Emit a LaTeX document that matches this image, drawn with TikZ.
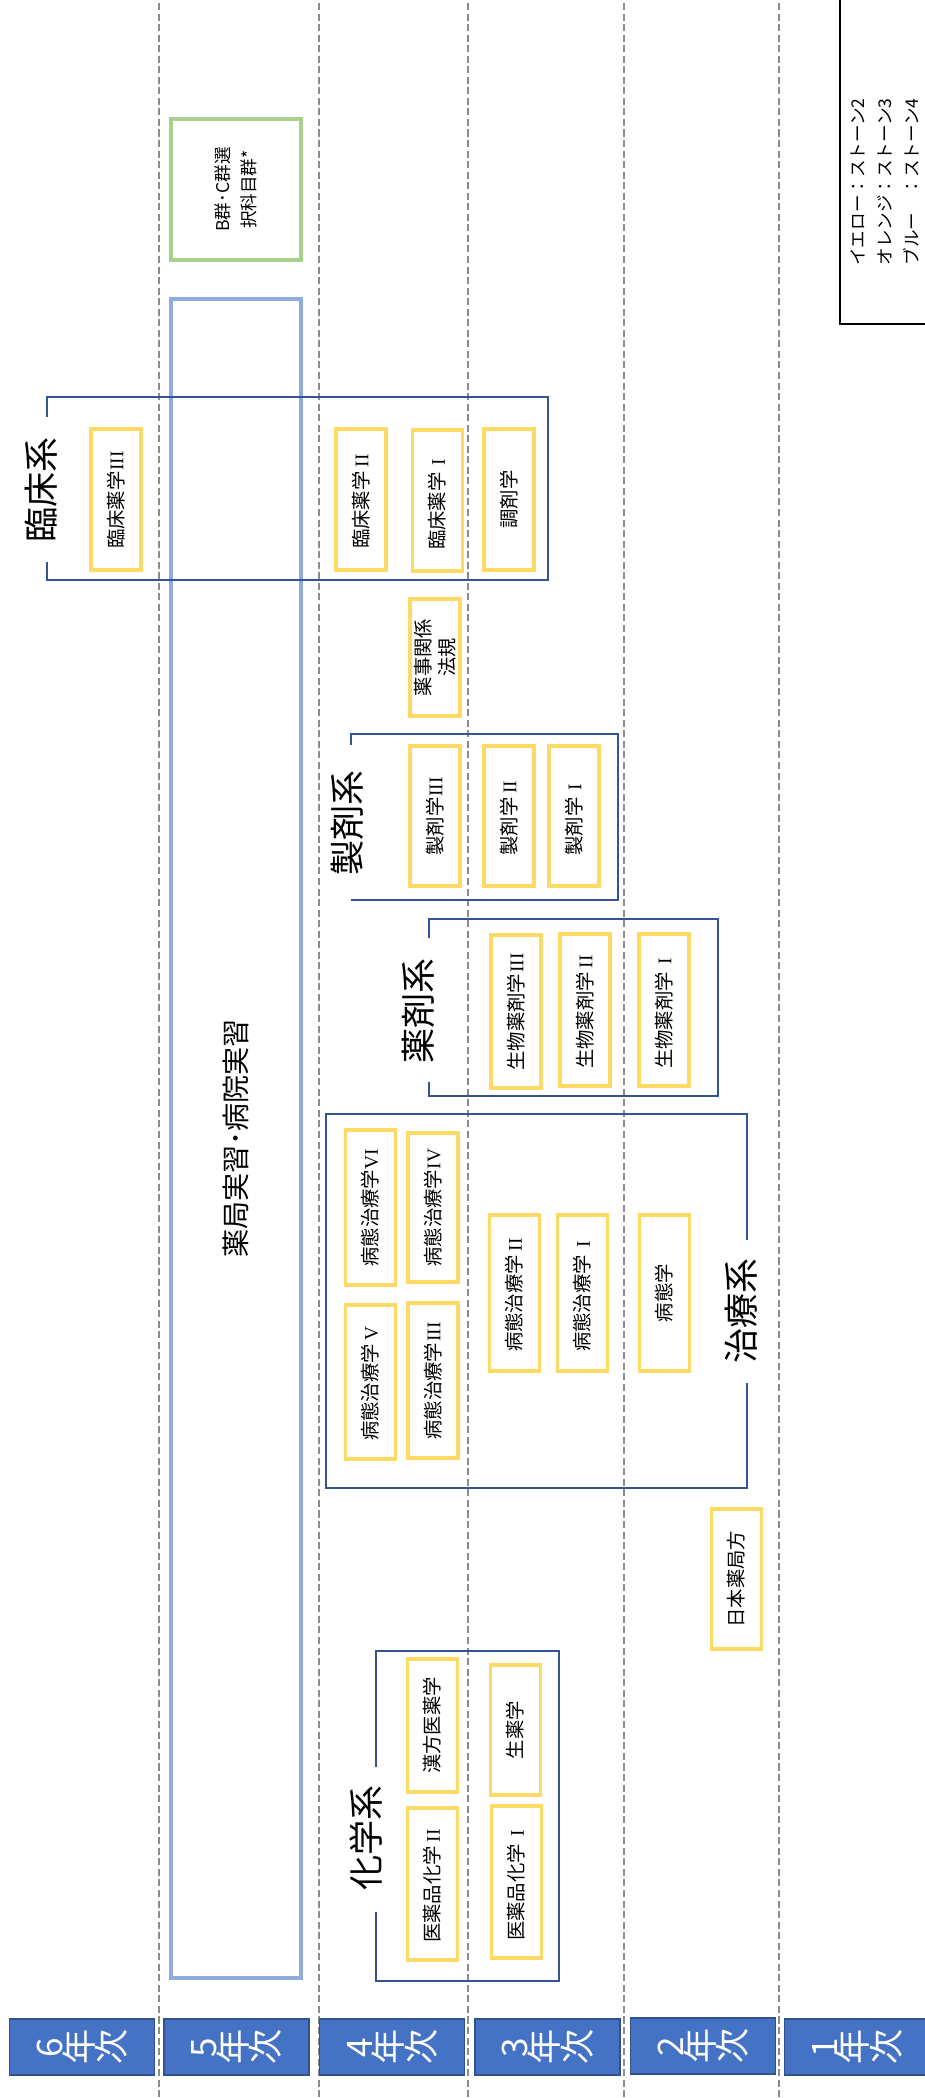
\documentclass[tikz,border=0pt]{standalone}
\usepackage{graphicx}
\usepackage{fontspec}
\setmainfont{Noto Sans CJK JP}
\newfontfamily\numfont{Liberation Serif}
\definecolor{stoneyellow}{RGB}{255,217,102}
\definecolor{groupblue}{RGB}{52,84,150}
\definecolor{practiceblue}{RGB}{143,170,220}
\definecolor{electivegreen}{RGB}{169,209,142}
\definecolor{yearfill}{RGB}{68,114,196}
\definecolor{yearedge}{RGB}{47,82,143}
\newcommand\pxu{0.02cm}
\newcommand\rchar[1]{\rotatebox[origin=c]{90}{#1}}
\newcommand\rnum[1]{\makebox[1.1em]{\numfont #1}}
\tikzstyle{grid}=[color=black!45,line width=0.7pt,dash pattern=on 4pt off 2pt]
\tikzstyle{subject}=[draw=stoneyellow,line width=2.2pt,rotate=90,inner sep=0pt,
  minimum height=50*\pxu,align=center,font=\fontsize{11pt}{14pt}\selectfont]
\tikzstyle{group}=[draw=groupblue,line width=1.3pt]
\tikzstyle{grouptitle}=[rotate=90,inner sep=0pt,font=\fontsize{20pt}{24pt}\selectfont]
\tikzstyle{year}=[fill=yearfill,draw=yearedge,line width=1pt,text=white,
  minimum width=145*\pxu,minimum height=56*\pxu,font=\fontsize{20pt}{24pt}\selectfont]

\begin{document}
\begin{tikzpicture}[x=0.02cm,y=-0.02cm]
    \useasboundingbox (0,0) rectangle (925,2098);

    \draw[grid] (159,3) -- (159,2098);
    \draw[grid] (319,3) -- (319,2098);
    \draw[grid] (468,3) -- (468,2098);
    \draw[grid] (624,3) -- (624,2098);
    \draw[grid] (779,3) -- (779,2098);

    % legend
    \draw[line width=1pt] (840,0) -- (840,324) -- (930,324);
    \node[rotate=90,align=left,font=\fontsize{10pt}{15.3pt}\selectfont] (legend) at (885,182)
      {イエロー：ストーン2\\オレンジ：ストーン3\\ブルー　：ストーン4};

    % 5th year
    \node[draw=electivegreen,line width=2.2pt,rotate=90,align=center,
      minimum width=141*\pxu,minimum height=130*\pxu,
      font=\fontsize{10pt}{14.7pt}\selectfont] (elective) at (236,189.5)
      {B群･C群選\\択科目群*};
    \node[draw=practiceblue,line width=2.2pt,rotate=90,
      minimum width=1679*\pxu,minimum height=130*\pxu,
      font=\fontsize{16pt}{20pt}\selectfont] (practice) at (236,1138.5)
      {薬局実習･病院実習};

    % 臨床系
    \draw[group] (47,417) -- (47,397) -- (548,397) -- (548,580) -- (47,580) -- (47,562);
    \node[grouptitle] (clinical) at (41,490) {臨床系};
    \node[subject,minimum width=141*\pxu] (rs3) at (116,499.5) {臨床薬学\rnum{III}};
    \node[subject,minimum width=141*\pxu] (rs2) at (361,499.5) {臨床薬学\rnum{II}};
    \node[subject,minimum width=141*\pxu] (rs1) at (437.5,500.5) {臨床薬学\rnum{I}};
    \node[subject,minimum width=141*\pxu] (chozai) at (509,499.5) {調剤学};

    \node[subject,minimum width=117*\pxu] (hoki) at (435,657.5) {薬事関係\\法規};

    % 製剤系
    \draw[group] (351,745) -- (351,734) -- (618,734) -- (618,900) -- (351,900);
    \node[grouptitle] (formulation) at (347,823) {製剤系};
    \node[subject,minimum width=140*\pxu] (sz3) at (435,816) {製剤学\rnum{III}};
    \node[subject,minimum width=140*\pxu] (sz2) at (509,816) {製剤学\rnum{II}};
    \node[subject,minimum width=140*\pxu] (sz1) at (574,816) {製剤学\rnum{I}};

    % 薬剤系
    \draw[group] (429,938) -- (429,919) -- (718,919) -- (718,1096) -- (429,1096) -- (429,1082);
    \node[grouptitle] (pharmaceutics) at (418,1011) {薬剤系};
    \node[subject,minimum width=153*\pxu] (bp3) at (516,1011.5) {生物薬剤学\rnum{III}};
    \node[subject,minimum width=152*\pxu] (bp2) at (585,1010) {生物薬剤学\rnum{II}};
    \node[subject,minimum width=152*\pxu] (bp1) at (664,1010) {生物薬剤学\rnum{I}};

    % 治療系
    \draw[group] (747,1240) -- (747,1114) -- (326,1114) -- (326,1488) -- (747,1488) -- (747,1383);
    \node[grouptitle] (therapy) at (741,1311) {治療系};
    \node[subject,minimum width=155*\pxu] (bt6) at (370.5,1207.5) {病態治療学\rnum{VI}};
    \node[subject,minimum width=149*\pxu] (bt4) at (433,1207.5) {病態治療学\rnum{IV}};
    \node[subject,minimum width=154*\pxu] (bt5) at (370.5,1382) {病態治療学\rnum{V}};
    \node[subject,minimum width=155*\pxu] (bt3) at (433,1380.5) {病態治療学\rnum{III}};
    \node[subject,minimum width=156*\pxu] (bt2) at (514.5,1293) {病態治療学\rnum{II}};
    \node[subject,minimum width=156*\pxu] (bt1) at (582.5,1293) {病態治療学\rnum{I}};
    \node[subject,minimum width=156*\pxu] (byotai) at (664.5,1293) {病態学};

    \node[subject,minimum width=140*\pxu] (jp) at (736.5,1579) {日本薬局方};

    % 化学系
    \draw[group] (376,1767) -- (376,1651) -- (559,1651) -- (559,1981) -- (376,1981) -- (376,1912);
    \node[grouptitle] (chemistry) at (366,1838) {化学系};
    \node[subject,minimum width=133*\pxu] (kampo) at (432.5,1725.5) {漢方医薬学};
    \node[subject,minimum width=152*\pxu] (ic2) at (432.5,1884) {医薬品化学\rnum{II}};
    \node[subject,minimum width=130*\pxu] (shoyaku) at (515.5,1730) {生薬学};
    \node[subject,minimum width=152*\pxu] (ic1) at (516.5,1882) {医薬品化学\rnum{I}};

    % years
    \node[year] (y6) at (82,2047) {\rchar{6}\rchar{年}\rchar{次}};
    \node[year] (y5) at (236.5,2047) {\rchar{5}\rchar{年}\rchar{次}};
    \node[year] (y4) at (392,2047) {\rchar{4}\rchar{年}\rchar{次}};
    \node[year] (y3) at (547.5,2047) {\rchar{3}\rchar{年}\rchar{次}};
    \node[year] (y2) at (703,2046) {\rchar{2}\rchar{年}\rchar{次}};
    \node[year] (y1) at (857,2047) {\rchar{1}\rchar{年}\rchar{次}};
\end{tikzpicture}
\end{document}
